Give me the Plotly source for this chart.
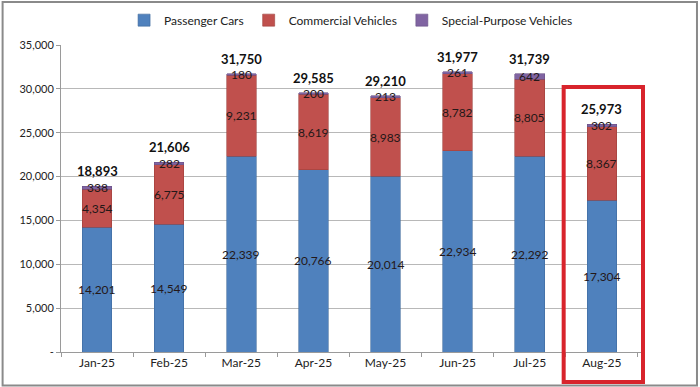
import plotly.graph_objects as go

months = ["Jan-25", "Feb-25", "Mar-25", "Apr-25", "May-25", "Jun-25", "Jul-25", "Aug-25"]
passenger = [14201, 14549, 22339, 20766, 20014, 22934, 22292, 17304]
commercial = [4354, 6775, 9231, 8619, 8983, 8782, 8805, 8367]
special = [338, 282, 180, 200, 213, 261, 642, 302]
totals = [18893, 21606, 31750, 29585, 29210, 31977, 31739, 25973]
ytick_vals = [0, 5000, 10000, 15000, 20000, 25000, 30000, 35000]
ytick_text = ["-", "5,000", "10,000", "15,000", "20,000", "25,000", "30,000", "35,000"]

FONT = "Lato, 'Open Sans', sans-serif"
fig = go.Figure()
series = [
    ("Passenger Cars", passenger, "#4F81BD", "#3f6a9c"),
    ("Commercial Vehicles", commercial, "#C0504D", "#9e3f3c"),
    ("Special-Purpose Vehicles", special, "#8064A2", "#6a5287"),
]
for name, vals, col, lc in series:
    fig.add_trace(go.Bar(x=months, y=vals, name=name, marker=dict(color=col, line=dict(color=lc, width=0.6)),
                         width=0.41))

ann = []
for i, m in enumerate(months):
    base = 0
    for name, vals, col, lc in series:
        v = vals[i]
        ann.append(dict(x=m, y=base + v / 2, text=f"{v:,}", showarrow=False,
                        font=dict(size=12, color="#241818", family=FONT)))
        base += v
    ann.append(dict(x=m, y=totals[i], text=f"<b>{totals[i]:,}</b>", showarrow=False, yanchor="bottom",
                    yshift=5, font=dict(size=13, color="#111", family=FONT)))

shapes = [
    dict(type="rect", xref="x", yref="paper", x0=6.47, x1=7.57, y0=-0.098, y1=0.863,
         line=dict(color="#d8242c", width=4), fillcolor="rgba(0,0,0,0)", layer="above"),
    dict(type="rect", xref="paper", yref="paper", x0=-0.1, x1=1.089, y0=-0.109, y1=1.14,
         line=dict(color="#8a8a8a", width=2), fillcolor="rgba(0,0,0,0)"),
]

fig.update_layout(
    barmode="stack",
    width=700, height=387,
    margin=dict(l=61, r=55, t=45, b=35, autoexpand=False),
    paper_bgcolor="white", plot_bgcolor="white",
    font=dict(family=FONT, size=12, color="#222"),
    legend=dict(orientation="h", x=0.108, xanchor="left", y=1.081, yanchor="middle",
                font=dict(size=12, color="#222"), itemwidth=30, traceorder="normal",
                bgcolor="rgba(0,0,0,0)", tracegroupgap=0),
    annotations=ann,
    shapes=shapes,
    bargap=0.59,
)
fig.update_xaxes(showline=True, linecolor="#9a9a9a", ticks="outside", tickson="boundaries",
                 tickcolor="#9a9a9a", ticklen=4, tickfont=dict(size=12, color="#222"), showgrid=False)
fig.update_yaxes(range=[0, 35000], tickvals=ytick_vals, ticktext=ytick_text, showgrid=True,
                 gridcolor="#b8b8b8", gridwidth=1, showline=True, linecolor="#9a9a9a", ticks="outside",
                 tickcolor="#9a9a9a", ticklen=4, tickfont=dict(size=11, color="#222"), zeroline=False)

fig.write_html("out.html", config={"displayModeBar": False},
               post_script="document.body.style.margin='0';")
